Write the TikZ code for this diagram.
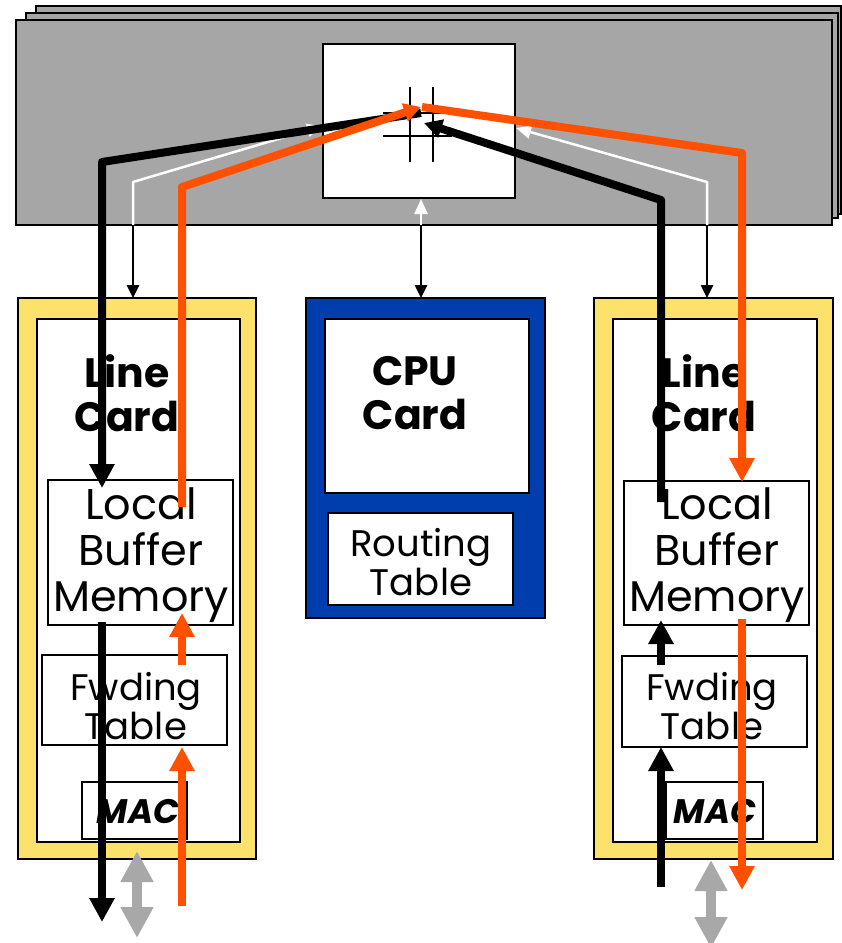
\documentclass[tikz,border=0pt]{standalone}
\usepackage{fontspec}
\setmainfont{Poppins}
\usetikzlibrary{arrows.meta}
\definecolor{chassis}{HTML}{A6A6A6}
\definecolor{lcyellow}{HTML}{FCE26A}
\definecolor{cpublue}{HTML}{003DAD}
\definecolor{flow}{HTML}{FF5000}
\definecolor{duplex}{HTML}{A8A8A8}
\begin{document}
\begin{tikzpicture}[x=1pt,y=-1pt,
  box/.style={draw=black, line width=2.5pt, inner sep=0pt, outer sep=0pt, fill=white},
  panel/.style={draw=black, line width=2.8pt, fill=chassis},
  lbl/.style={inner sep=0pt, align=center, text=black},
  blk/.style={draw=black, line width=8pt, line join=round},
  org/.style={draw=flow, line width=8pt, line join=round},
  thin/.style={draw=black, line width=2.5pt, -{Triangle[width=12pt,length=13pt]}},
  wht/.style={draw=white, line width=2.5pt, line join=round, -{Triangle[width=13pt,length=15pt]}},
  bighead/.style={-{Triangle[width=24pt,length=24pt]}},
  midhead/.style={-{Triangle[width=18pt,length=18pt]}},
  xbar/.style={draw=black, line width=2.4pt},
  duplexarrow/.style={draw=duplex, line width=10pt, {Triangle[width=31pt,length=31pt]}-{Triangle[width=31pt,length=31pt]}}
]
\useasboundingbox (0,0) rectangle (842,943);

% chassis (stacked)
\draw[panel] (36,6) rectangle (841,214);
\draw[panel] (26,13) rectangle (838,218);
\draw[panel] (16,20) rectangle (832,225);

% switch fabric
\node[box, minimum width=192pt, minimum height=154pt] (sw) at (419,121) {};
\draw[xbar] (410,87) -- (410,162);
\draw[xbar] (433,87) -- (433,162);
\draw[xbar] (383,113) -- (445,113);
\draw[xbar] (383,136) -- (452,136);

% left line card
\node[box, fill=lcyellow, minimum width=238pt, minimum height=561pt] (lcL) at (137,578.5) {};
\node[box, minimum width=203pt, minimum height=523pt] (lcLi) at (138.5,580.5) {};
\node[box, minimum width=185pt, minimum height=145pt] (lbmL) at (140.5,552.5) {};
\node[box, minimum width=185pt, minimum height=90pt] (ftL) at (134.5,700) {};
\node[box, minimum width=105pt, minimum height=57pt] (macL) at (134.5,810.5) {};

% right line card
\node[box, fill=lcyellow, minimum width=239pt, minimum height=561pt] (lcR) at (713.5,578.5) {};
\node[box, minimum width=204pt, minimum height=523pt] (lcRi) at (715,580.5) {};
\node[box, minimum width=185pt, minimum height=144pt] (lbmR) at (716.5,553) {};
\node[box, minimum width=185pt, minimum height=91pt] (ftR) at (714.5,701.5) {};
\node[box, minimum width=97pt, minimum height=57pt] (macR) at (714.5,810.5) {};

% CPU card
\node[box, fill=cpublue, minimum width=239pt, minimum height=320pt] (cpu) at (425.5,458) {};
\node[box, minimum width=204pt, minimum height=174pt] (cpui) at (427,406) {};
\node[box, minimum width=185pt, minimum height=92pt] (rt) at (420.5,559) {};

% texts
\node[lbl, font=\bfseries\fontsize{41}{44}\selectfont] (tLcL) at (127,393) {Line\\Card};
\node[lbl, font=\bfseries\fontsize{41}{44}\selectfont] (tLcR) at (704,393) {Line\\Card};
\node[lbl, font=\bfseries\fontsize{41}{44}\selectfont] (tCpu) at (415,393) {CPU\\Card};
\node[lbl, font=\fontsize{43}{46}\selectfont] (tLbmL) at (141,555) {Local\\Buffer\\Memory};
\node[lbl, font=\fontsize{43}{46}\selectfont] (tLbmR) at (717,555) {Local\\Buffer\\Memory};
\node[lbl, font=\fontsize{37}{35}\selectfont] (tFtL) at (136,706) {Fwding\\Table};
\node[lbl, font=\fontsize{37}{35}\selectfont] (tFtR) at (712,706) {Fwding\\Table};
\node[lbl, font=\fontsize{37}{37}\selectfont] (tRt) at (421,562) {Routing\\Table};
\node[lbl, font=\bfseries\itshape\fontsize{34}{28}\selectfont] (tMacL) at (138,812) {MAC};
\node[lbl, font=\bfseries\itshape\fontsize{34}{28}\selectfont] (tMacR) at (715,812) {MAC};

% coordinates of the flows
\coordinate (xp1) at (421,113);
\coordinate (xp2) at (421,107);
\coordinate (xp3) at (424,123);
\coordinate (xp4) at (422,107);
\coordinate (bLa) at (102,162);
\coordinate (bLb) at (102,488);
\coordinate (oLa) at (182,507);
\coordinate (oLb) at (182,187);
\coordinate (bRa) at (661,502);
\coordinate (bRb) at (661,200);
\coordinate (oRa) at (742,153);
\coordinate (oRb) at (742,482);
\coordinate (wLa) at (133,225);
\coordinate (wLb) at (133,182);
\coordinate (wLc) at (322,126);
\coordinate (wRa) at (707,225);
\coordinate (wRb) at (707,182);
\coordinate (wRc) at (516,128);
\coordinate (wCa) at (421,225);
\coordinate (wCb) at (421,199);

% control links (white inside chassis, black outside)
\draw[wht] (wLa) -- (wLb) -- (wLc);
\draw[wht] (wRa) -- (wRb) -- (wRc);
\draw[wht] (wCa) -- (wCb);
\draw[thin] (wLa) -- (lcL.north -| wLa);
\draw[thin] (wRa) -- (lcR.north -| wRa);
\draw[thin] (wCa) -- (cpu.north -| wCa);

% data flows through fabric
\draw[blk, bighead] (xp1) -- (bLa) -- (bLb);
\draw[org, -{Triangle[width=18pt,length=17pt]}] (oLa) -- (oLb) -- (xp2);
\draw[blk, midhead] (bRa) -- (bRb) -- (xp3);
\draw[org, bighead] (xp4) -- (oRa) -- (oRb);

% left card internal / external flows
\coordinate (bLc) at (102,622);
\coordinate (bLd) at (102,922);
\coordinate (oLc) at (182,906);
\coordinate (oLd) at (182,747);
\coordinate (oLe) at (182,665);
\coordinate (oLf) at (182,613);
\draw[blk, bighead] (bLc) -- (bLd);
\draw[org, bighead] (oLc) -- (oLd);
\draw[org, bighead] (oLe) -- (oLf);
\coordinate (gLa) at (137,851);
\coordinate (gLb) at (137,938);
\draw[duplexarrow] (gLa) -- (gLb);

% right card internal / external flows
\coordinate (oRc) at (742,619);
\coordinate (oRd) at (742,890);
\coordinate (bRc) at (661,887);
\coordinate (bRd) at (661,747);
\coordinate (bRe) at (661,665);
\coordinate (bRf) at (661,620);
\draw[org, bighead] (oRc) -- (oRd);
\draw[blk, bighead] (bRc) -- (bRd);
\draw[blk, bighead] (bRe) -- (bRf);
\coordinate (gRa) at (711,860);
\coordinate (gRb) at (711,948);
\draw[duplexarrow] (gRa) -- (gRb);
\end{tikzpicture}
\end{document}
